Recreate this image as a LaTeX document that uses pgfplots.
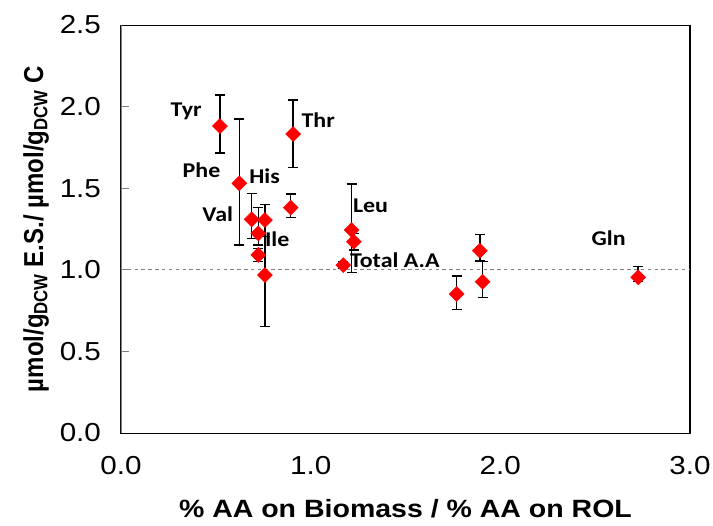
\documentclass[border=0pt]{standalone}
\usepackage{graphicx}
\usepackage{pgfplots}
\pgfplotsset{compat=1.18}
\usepackage{pgfplotstable}
\usepackage{fontspec}
\setmainfont{Liberation Sans}
\newfontfamily\calfont{Carlito}

% x: %AA biomass / %AA ROL, y: ratio, ep/em: error up/down
\pgfplotstableread{
x     y     ep    em
0.522 1.881 0.190 0.165
0.624 1.530 0.394 0.378
0.908 1.832 0.208 0.206
0.895 1.381 0.083 0.062
0.689 1.309 0.160 0.116
0.759 1.305 0.096 0.100
0.724 1.223 0.157 0.071
0.724 1.091 0.040 0.040
0.759 0.968 0.320 0.316
1.216 1.244 0.282 0.262
1.228 1.172 0.050 0.050
1.172 1.029 0.020 0.020
1.770 0.852 0.110 0.094
1.892 1.117 0.100 0.063
1.907 0.927 0.123 0.098
2.727 0.954 0.065 0.024
}\aadata

\begin{document}
\scalebox{1.14}[1]{%
\begin{tikzpicture}
\begin{axis}[
    scale only axis,
    width=499.1pt, height=408pt,
    xmin=0, xmax=3, ymin=0, ymax=2.5,
    xtick={0,1,2,3},
    ytick={0,0.5,1,1.5,2,2.5},
    ytick pos=left,
    xtick style={draw=none},
    ytick style={gray, line width=0.8pt},
    tick align=inside,
    major tick length=7pt,
    axis line style={line width=1pt},
    ticklabel style={font=\fontsize{26}{26}\selectfont},
    /pgf/number format/fixed,
    /pgf/number format/fixed zerofill,
    /pgf/number format/precision=1,
    /pgf/number format/assume math mode=true,
    yticklabel style={xshift=-14pt},
    xticklabel style={yshift=-20pt},
    xlabel={\% AA on Biomass / \% AA on ROL},
    ylabel={µmol/g\textsubscript{DCW} E.S./ µmol/g\textsubscript{DCW} C},
    xlabel style={font=\bfseries\fontsize{25}{25}\selectfont,
        at={(axis description cs:0.5,-0.186)}, anchor=center},
    ylabel style={font=\bfseries\fontsize{24}{24}\selectfont,
        at={(axis description cs:-0.149,0.5)}, anchor=center},
]
\addplot[gray, dashed, line width=0.8pt, forget plot] coordinates {(0,1)(3,1)};
\addplot[only marks, mark=diamond*, mark size=7.5pt,
    mark options={xscale=1.17, fill=red, draw=red},
    error bars/.cd, y dir=both, y explicit,
    error bar style={black, line width=1.3pt},
    error mark options={black, line width=1.3pt, mark size=4.4pt, rotate=90}]
    table[x=x, y=y, y error plus=ep, y error minus=em] {\aadata};

\draw[gray, line width=1pt] (rel axis cs:0,0) -- (rel axis cs:0,1);
\coordinate (ll) at (rel axis cs:0,0);
\begin{scope}[every node/.style={anchor=base, font=\calfont\bfseries\fontsize{21}{21}\selectfont}]
\node at (axis cs:0.344,1.938) {Tyr};
\node at (axis cs:0.425,1.567) {Phe};
\node at (axis cs:0.757,1.530) {His};
\node at (axis cs:0.510,1.295) {Val};
\node at (axis cs:0.824,1.142) {Ile};
\node at (axis cs:1.040,1.871) {Thr};
\node at (axis cs:1.316,1.350) {Leu};
\node at (axis cs:1.444,1.015) {Total A.A};
\node at (axis cs:2.571,1.146) {Gln};
\end{scope}
\end{axis}
\pgfresetboundingbox
\path[use as bounding box] (ll) ++(-106.1pt,-92pt) rectangle ++(625.4pt,525pt);
\end{tikzpicture}}
\end{document}
